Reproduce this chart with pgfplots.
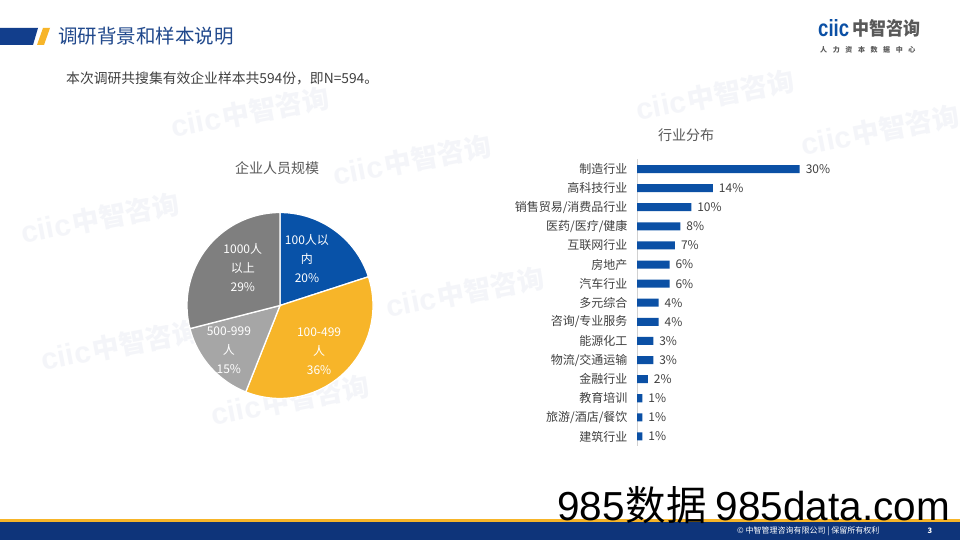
\documentclass[border=0pt]{standalone}
\usepackage{pgfplots}
\pgfplotsset{compat=1.18}
\usepackage{pgfplotstable}
\usepackage{fontspec}
\setmainfont{Noto Sans CJK SC}
\newfontfamily\arialf{Liberation Sans}
\newfontfamily\cjkf{Noto Sans CJK SC}
\definecolor{barblue}{RGB}{11,80,165}
\definecolor{pieblue}{RGB}{8,82,168}
\definecolor{pieyellow}{RGB}{247,181,41}
\definecolor{piedark}{RGB}{127,127,127}
\definecolor{pielight}{RGB}{166,166,166}
\definecolor{txtgray}{RGB}{64,64,64}
\definecolor{ttlgray}{RGB}{89,89,89}
\definecolor{hdrblue}{RGB}{18,62,140}
\definecolor{ttlblue}{RGB}{32,72,140}
\definecolor{footblue}{RGB}{14,52,122}
\definecolor{wmcol}{RGB}{225,229,238}

\pgfplotstableread{
i v label
0 30 制造行业
1 14 高科技行业
2 10 销售贸易/消费品行业
3 8 医药/医疗/健康
4 7 互联网行业
5 6 房地产
6 6 汽车行业
7 4 多元综合
8 4 咨询/专业服务
9 3 能源化工
10 3 物流/交通运输
11 2 金融行业
12 1 教育培训
13 1 旅游/酒店/餐饮
14 1 建筑行业
}\inddata

% pie shares (percent)
\def\pA{20}\def\pB{36}\def\pC{15}\def\pD{29}

\newcommand\wm[2]{\node[rotate=11, text=wmcol, opacity=0.35, inner sep=0] at (#1,{540-#2}) {{\arialf\bfseries\fontsize{30}{30}\selectfont ciic}\hspace{2pt}{\bfseries\fontsize{27}{27}\selectfont 中智咨询}};}

\begin{document}
\begin{tikzpicture}[x=1pt,y=1pt]
\useasboundingbox (0,0) rectangle (960,540);
\clip (0,0) rectangle (960,540);
\fill[white] (0,0) rectangle (960,540);

% watermarks (behind)
\wm{250}{112}
\wm{412}{160}
\wm{715}{95}
\wm{100}{218}
\wm{465}{292}
\wm{120}{345}
\wm{290}{400}
\wm{880}{130}

% header
\fill[hdrblue] (0,{540-28}) -- (38,{540-28}) -- (33,{540-45}) -- (0,{540-45}) -- cycle;
\fill[pieyellow] (43,{540-28}) -- (50,{540-28}) -- (44,{540-45}) -- (37,{540-45}) -- cycle;
\node[anchor=west, inner sep=0, text=ttlblue] at (58,{540-36.5}) {\fontsize{19.5}{19.5}\selectfont 调研背景和样本说明};
\node[anchor=west, inner sep=0, text=txtgray] at (66,{540-78}) {\fontsize{13.8}{14}\selectfont 本次调研共搜集有效企业样本共594份，即N=594。};

% logo
\node[anchor=west, inner sep=0, text=barblue] at (818,{540-28}) {\resizebox{31pt}{17pt}{\arialf\bfseries ciic}};
\node[anchor=west, inner sep=0, text=ttlgray] at (852,{540-28}) {\resizebox{68pt}{16pt}{\bfseries 中智咨询}};
\node[anchor=west, inner sep=0, text=ttlgray] at (820,{540-50}) {\fontsize{7}{7}\selectfont\bfseries 人\hspace{5.6pt}力\hspace{5.6pt}资\hspace{5.6pt}本\hspace{5.6pt}数\hspace{5.6pt}据\hspace{5.6pt}中\hspace{5.6pt}心};

% footer
\fill[pieyellow] (0,18) rectangle (960,20.5);
\fill[footblue] (0,0) rectangle (960,18);
\node[anchor=west, inner sep=0, text=white] at (737,9) {\fontsize{8}{8}\selectfont © 中智管理咨询有限公司 | 保留所有权利};
\node[inner sep=0, text=white] at (930,9) {\fontsize{7.5}{7.5}\selectfont\bfseries 3};

% titles
\node[text=ttlgray, inner sep=0] at (277,{540-168}) {\fontsize{14}{14}\selectfont 企业人员规模};
\node[text=ttlgray, inner sep=0] at (686,{540-135}) {\fontsize{14}{14}\selectfont 行业分布};

% pie chart
\begin{axis}[at={(280pt,234.5pt)}, anchor=center, x=93pt, y=93pt,
  xmin=-1, xmax=1, ymin=-1, ymax=1, hide axis, clip=false]
\fill[pieblue, draw=white, line width=1.3pt] (axis cs:0,0) -- (axis cs:0,1)
  arc[start angle=90, end angle={90-3.6*\pA}, radius=93pt] -- cycle;
\fill[pieyellow, draw=white, line width=1.3pt] (axis cs:0,0) -- (axis cs:{cos(90-3.6*\pA)},{sin(90-3.6*\pA)})
  arc[start angle={90-3.6*\pA}, end angle={90-3.6*(\pA+\pB)}, radius=93pt] -- cycle;
\fill[pielight, draw=white, line width=1.3pt] (axis cs:0,0) -- (axis cs:{cos(90-3.6*(\pA+\pB))},{sin(90-3.6*(\pA+\pB))})
  arc[start angle={90-3.6*(\pA+\pB)}, end angle={90-3.6*(\pA+\pB+\pC)}, radius=93pt] -- cycle;
\fill[piedark, draw=white, line width=1.3pt] (axis cs:0,0) -- (axis cs:{cos(90-3.6*(\pA+\pB+\pC))},{sin(90-3.6*(\pA+\pB+\pC))})
  arc[start angle={90-3.6*(\pA+\pB+\pC)}, end angle={90-360}, radius=93pt] -- cycle;
\node[text=white, align=center, font=\fontsize{12}{19}\selectfont] at (axis cs:0.29,0.50) {100人以\\内\\\pA\%};
\node[text=white, align=center, font=\fontsize{12}{19}\selectfont] at (axis cs:0.42,-0.49) {100-499\\人\\\pB\%};
\node[text=white, align=center, font=\fontsize{12}{19}\selectfont] at (axis cs:-0.55,-0.48) {500-999\\人\\\pC\%};
\node[text=white, align=center, font=\fontsize{12}{19}\selectfont] at (axis cs:-0.40,0.41) {1000人\\以上\\\pD\%};
\end{axis}

% bar chart
\begin{axis}[at={(637pt,94pt)}, anchor=south west, scale only axis,
  width=179pt, height=286.5pt,
  xbar, bar width=8pt, xmin=0, xmax=33, ymin=-0.5, ymax=14.5, y dir=reverse,
  axis x line=none, axis y line*=left,
  y axis line style={draw=black!18, line width=0.8pt},
  ytick={0,...,14}, yticklabels from table={\inddata}{label},
  major tick length=0pt,
  yticklabel style={font=\fontsize{12}{12}\selectfont, text=txtgray, xshift=-6pt},
  point meta=x,
  nodes near coords={\pgfmathprintnumber{\pgfplotspointmeta}\%},
  nodes near coords style={font=\fontsize{12}{12}\selectfont, text=txtgray, xshift=2.5pt},
  /pgf/number format/assume math mode=true,
  clip=false]
\addplot[fill=barblue, draw=none] table[x=v, y=i] {\inddata};
\end{axis}

% site watermark
\node[anchor=base west, inner sep=0, text=black] at (557,{540-521}) {\fontsize{40.5}{40.5}\selectfont\arialf 985\hspace{1pt}{\cjkf\fontsize{40.5}{40.5}\selectfont 数据}\hspace{9pt}985data.com};
\end{tikzpicture}
\end{document}
